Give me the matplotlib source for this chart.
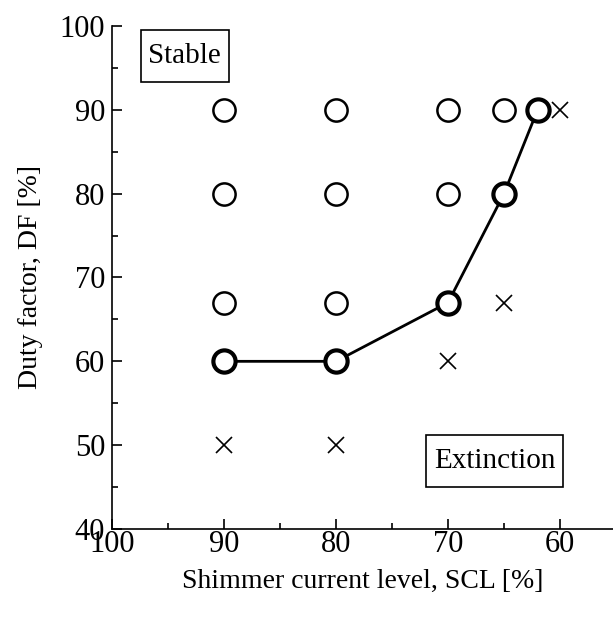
import matplotlib
matplotlib.use("Agg")
import matplotlib.pyplot as plt
from matplotlib.path import Path
from matplotlib.ticker import MultipleLocator

plt.rcParams['font.family'] = ['Liberation Serif', 'DejaVu Serif']

# stable points (open circles)
stable_x = [90, 80, 70, 65, 90, 80, 70, 90, 80]
stable_y = [90, 90, 90, 90, 80, 80, 80, 67, 67]
# boundary points (bold circles, joined by line)
bound_x = [90, 80, 70, 65, 62]
bound_y = [60, 60, 67, 80, 90]
# extinction points (crosses)
ext_x = [60, 65, 70, 90, 80]
ext_y = [90, 67, 60, 50, 50]


def tall_box(x0, y0, width, height, mutation_size):
    # square box with more padding top/bottom than left/right
    px = 0.26 * mutation_size
    py = 0.44 * mutation_size
    x0, y0 = x0 - px, y0 - py
    x1, y1 = x0 + width + 2 * px, y0 + height + 2 * py
    return Path([(x0, y0), (x1, y0), (x1, y1), (x0, y1), (x0, y0)], closed=True)


fig = plt.figure(figsize=(6.13, 6.19), dpi=100)
ax = fig.add_axes([0.1827, 0.1454, 0.8173, 0.8126])

ax.plot(bound_x, bound_y, color="black", lw=2, zorder=2)
ax.plot(stable_x, stable_y, "o", ms=16, mfc="white", mec="black", mew=1.8, zorder=3)
ax.plot(bound_x, bound_y, "o", ms=16, mfc="white", mec="black", mew=3, zorder=3)
ax.plot(ext_x, ext_y, "x", ms=12, color="black", mew=1.2, zorder=3)

ax.set_xlim(100, 55.27)
ax.set_ylim(40, 100)
ax.xaxis.set_major_locator(MultipleLocator(10))
ax.xaxis.set_minor_locator(MultipleLocator(5))
ax.yaxis.set_major_locator(MultipleLocator(10))
ax.yaxis.set_minor_locator(MultipleLocator(5))
ax.tick_params(which="both", direction="in", labelsize=22, width=1.2)
ax.tick_params(which="major", length=7)
ax.tick_params(which="minor", length=4)
ax.tick_params(axis="x", pad=1)
ax.tick_params(axis="y", pad=5)
for s in ["top", "right"]:
    ax.spines[s].set_visible(False)
for s in ["left", "bottom"]:
    ax.spines[s].set_linewidth(1.2)

ax.set_xlabel("Shimmer current level, SCL [%]", fontsize=20, labelpad=7)
ax.set_ylabel("Duty factor, DF [%]", fontsize=20, labelpad=12)

box = dict(boxstyle=tall_box, fc="white", ec="black", lw=1.2)
ax.text(93.5, 96.4, "Stable", fontsize=21, ha="center", va="center", bbox=box)
ax.text(65.85, 48.1, "Extinction", fontsize=21, ha="center", va="center", bbox=box)

fig.savefig("out.png", dpi=100)
